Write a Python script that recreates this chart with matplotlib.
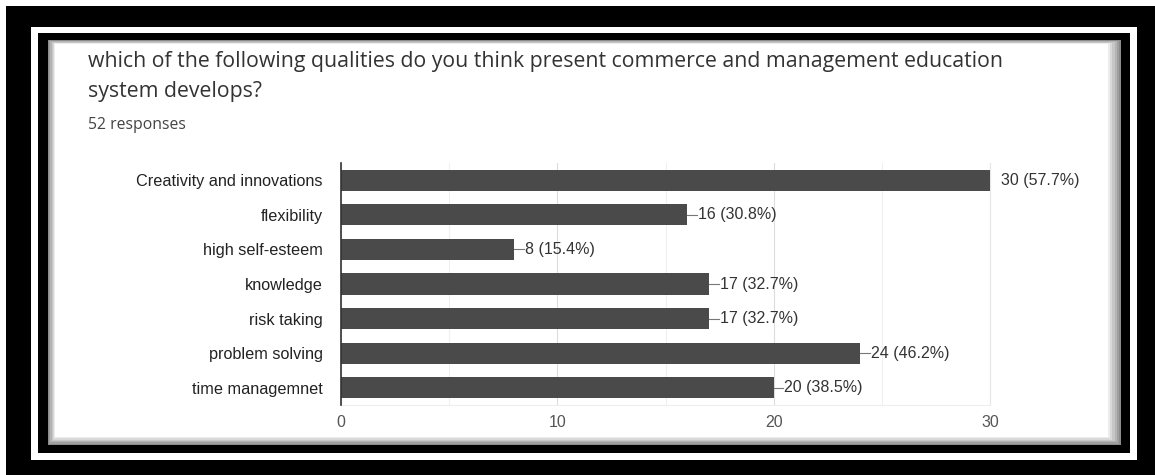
import numpy as np
import matplotlib.pyplot as plt
from matplotlib.patches import Rectangle

categories = ["Creativity and innovations", "flexibility", "high self-esteem",
              "knowledge", "risk taking", "problem solving", "time managemnet"]
counts = [30, 16, 8, 17, 17, 24, 20]
total_responses = 52
xticks = [0, 10, 20, 30]

W, H = 1155, 475
fig = plt.figure(figsize=(W / 100, H / 100), dpi=100)
fig.patch.set_facecolor("white")


def box(x0, y0, x1, y1, color):
    # pixel box, measured from the top-left corner; kept behind the axes
    fig.patches.append(Rectangle((x0 / W, 1 - y1 / H), (x1 - x0) / W, (y1 - y0) / H,
                                 transform=fig.transFigure, facecolor=color,
                                 edgecolor="none", zorder=-10))


# double black frame
box(6, 6, 1155, 475, "black")
box(31, 27, 1137, 460, "white")
box(38, 33, 1130, 453, "black")
# soft inner shadow
steps = 7
for i in range(steps):
    t = i / (steps - 1)
    g = 0.55 + 0.45 * t
    box(48 + 7 * t, 40 + 4 * t, 1121 - 13 * t, 445 - 8 * t, (g, g, g))
box(55, 44, 1108, 437, "white")

# heading
fig.text(88 / W, 1 - 62 / H,
         "which of the following qualities do you think present commerce and management education",
         family="Open Sans", fontsize=15.3, color="#333333", va="center", ha="left")
fig.text(88 / W, 1 - 92 / H, "system develops?",
         family="Open Sans", fontsize=15.3, color="#333333", va="center", ha="left")
fig.text(88 / W, 1 - 125 / H, "52 responses",
         family="Open Sans", fontsize=11.3, color="#444444", va="center", ha="left")

# bar chart
ax = fig.add_axes([341 / W, 70 / H, 649 / W, 242 / H])
ax.set_facecolor("none")
y = np.arange(len(categories))
ax.barh(y, counts, height=0.61, color="#4a4a4a", zorder=3)
ax.set_xlim(0, 30)
ax.set_ylim(len(categories) - 0.5, -0.5)

ax.set_xticks(xticks)
ax.set_xticks(np.arange(5, 30, 10), minor=True)
ax.grid(axis="x", which="major", color="#dcdcdc", lw=0.8, zorder=0)
ax.grid(axis="x", which="minor", color="#efefef", lw=0.8, zorder=0)
ax.tick_params(axis="both", which="both", length=0)
ax.tick_params(axis="x", pad=7, labelsize=11.5, labelcolor="#555555")
ax.set_yticks(y)
ax.set_yticklabels(categories, fontsize=11.7, color="#222222")
ax.tick_params(axis="y", pad=13)
for lab in ax.get_xticklabels() + ax.get_yticklabels():
    lab.set_family("Liberation Sans")

ax.spines["left"].set_color("#333333")
ax.spines["left"].set_linewidth(1.2)
ax.spines["left"].set_zorder(4)
ax.spines["top"].set_visible(False)
ax.spines["right"].set_color("#e6e6e6")
ax.spines["bottom"].set_color("#eeeeee")

# value labels with short leader lines
for yi, v in zip(y, counts):
    pct = v / total_responses * 100
    ax.plot([v, v + 0.45], [yi, yi], color="#777777", lw=0.8, zorder=3, clip_on=True)
    ax.text(v + 0.5, yi, f"{v} ({pct:.1f}%)", va="center", ha="left",
            family="Liberation Sans", fontsize=11.5, color="#333333", clip_on=False)

fig.savefig("out.png", dpi=100)
